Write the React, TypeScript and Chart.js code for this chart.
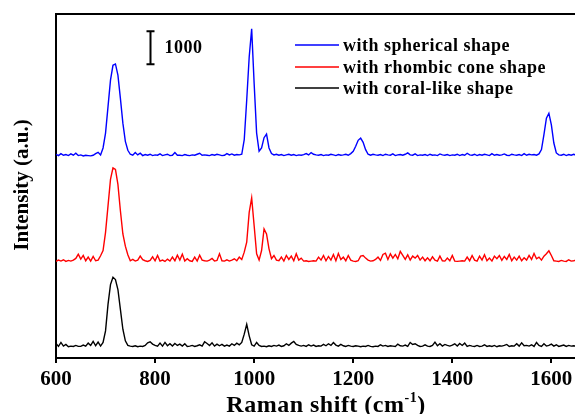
import { useEffect, useRef } from "react";
import { Chart, registerables } from "chart.js";

Chart.register(...registerables);

// Raman spectra sampled every 5 cm-1 from 600 to 1650 cm-1 (intensity above each trace's own baseline)
const SHIFT_START = 600;
const SHIFT_STEP = 5;

const SPHERICAL = [
  60, 20, 80, 30, 50, 20, 70, 30, 90, 20,
  40, 10, 30, 20, 10, 30, 80, 120, 40, 250,
  700, 1500, 2300, 2750, 2790, 2450, 1750, 1000, 450, 180,
  60, 30, 110, 40, 90, 20, 50, 30, 60, 20,
  40, 30, 70, 20, 40, 60, 20, 30, 110, 30,
  30, 20, 50, 30, 20, 40, 30, 60, 90, 30,
  40, 30, 20, 50, 30, 60, 40, 20, 30, 80,
  40, 70, 30, 50, 40, 60, 500, 1700, 3000, 3850,
  2200, 700, 150, 250, 560, 670, 250, 80, 40, 60,
  30, 50, 20, 40, 60, 30, 50, 20, 40, 30,
  50, 80, 40, 110, 60, 40, 30, 50, 20, 40,
  30, 60, 40, 20, 50, 30, 40, 60, 30, 80,
  150, 300, 480, 550, 420, 200, 60, 30, 60, 40,
  30, 50, 20, 60, 40, 30, 70, 20, 40, 50,
  30, 60, 100, 40, 30, 70, 20, 40, 30, 50,
  20, 60, 30, 40, 20, 70, 40, 30, 50, 20,
  40, 30, 60, 20, 50, 30, 90, 40, 30, 60,
  20, 50, 30, 60, 40, 20, 80, 30, 50, 30,
  40, 70, 30, 20, 60, 40, 30, 50, 20, 80,
  30, 60, 40, 50, 30, 70, 200, 650, 1150, 1300,
  950, 400, 100, 40, 30, 60, 20, 50, 30, 60,
  30,
];

const RHOMBIC_CONE = [
  20, 60, 30, 70, 20, 50, 30, 60, 110, 240,
  90, 200, 40, 150, 30, 170, 40, 60, 190, 350,
  900, 1700, 2500, 2850, 2800, 2350, 1550, 850, 480, 220,
  40, 80, 30, 60, 180, 70, 40, 20, 50, 160,
  40, 200, 30, 60, 20, 90, 30, 150, 40, 210,
  60, 240, 30, 100, 40, 20, 150, 30, 210, 60,
  40, 30, 60, 110, 30, 50, 250, 40, 30, 70,
  30, 60, 100, 40, 150, 80, 300, 600, 1500, 1940,
  1100, 250, 60, 350, 1000, 850, 400, 100, 200, 60,
  40, 150, 30, 200, 80, 180, 40, 250, 60, 120,
  30, 40, 20, 30, 40, 30, 150, 60, 200, 40,
  170, 60, 230, 40, 260, 80, 150, 40, 200, 60,
  30, 20, 40, 180, 200, 120, 60, 30, 40, 80,
  150, 50, 230, 270, 80, 250, 120, 230, 100, 320,
  200, 80, 220, 60, 180, 120, 200, 60, 150, 40,
  130, 40, 160, 60, 30, 180, 40, 30, 120, 40,
  200, 30, 20, 30, 40, 30, 150, 40, 200, 60,
  30, 180, 60, 220, 40, 120, 30, 180, 100, 200,
  50, 170, 80, 230, 40, 150, 60, 180, 40, 130,
  60, 200, 80, 260, 100, 150, 60, 180, 250, 340,
  200, 40, 30, 20, 50, 30, 20, 70, 30, 40,
  60,
];

const CORAL_LIKE = [
  120, 30, 150, 40, 90, 20, 40, 30, 60, 30,
  30, 70, 40, 130, 60, 180, 50, 160, 40, 150,
  500, 1300, 1900, 2120, 2050, 1750, 1150, 550, 200, 60,
  40, 30, 50, 20, 40, 30, 60, 140, 170, 100,
  60, 40, 130, 40, 150, 50, 110, 40, 120, 60,
  100, 40, 110, 30, 40, 60, 30, 50, 80, 40,
  170, 120, 60, 140, 40, 100, 50, 90, 40, 70,
  40, 110, 60, 130, 80, 150, 400, 700, 350, 80,
  40, 150, 60, 30, 40, 20, 50, 30, 60, 40,
  70, 30, 50, 110, 60, 130, 180, 90, 60, 40,
  60, 30, 80, 40, 70, 30, 50, 40, 90, 50,
  110, 60, 150, 70, 40, 90, 50, 30, 60, 40,
  30, 50, 40, 20, 40, 30, 60, 30, 20, 40,
  30, 80, 40, 60, 30, 50, 40, 30, 100, 50,
  40, 70, 30, 150, 90, 110, 60, 30, 40, 80,
  40, 30, 60, 160, 50, 110, 40, 90, 60, 40,
  70, 110, 40, 120, 60, 130, 30, 60, 40, 30,
  60, 30, 40, 80, 30, 50, 30, 60, 20, 50,
  40, 60, 90, 30, 50, 40, 110, 40, 140, 50,
  60, 40, 80, 30, 150, 60, 30, 110, 40, 60,
  100, 40, 80, 30, 50, 70, 30, 60, 40, 50,
  40,
];

const SERIES = [SPHERICAL, RHOMBIC_CONE, CORAL_LIKE];
const SERIES_NAMES = ["with spherical shape", "with rhombic cone shape", "with coral-like shape"];
const SERIES_COLORS = ["#0000ff", "#ff0000", "#000000"];
// vertical stacking of the three spectra, in intensity units
const STACK_OFFSETS = [6100, 2900, 320];

const X_TICKS = [600, 800, 1000, 1200, 1400, 1600];
const X_MIN = 600;
const X_MAX = 1680;
const Y_MIN = 0;
const Y_MAX = 10400;

// intensity scale bar: 1000 a.u., drawn at 790 cm-1
const SCALE_BAR_SIZE = 1000;
const SCALE_BAR_SHIFT = 790;
const SCALE_BAR_BASE = 8880;

const FONT_FAMILY = '"Liberation Serif", "Times New Roman", serif';

const decorations = {
  id: "decorations",
  afterDraw(chart: any) {
    const { ctx, chartArea: a, scales } = chart;
    const xs = scales.x;
    const ys = scales.y;
    ctx.save();

    // upper frame line
    ctx.strokeStyle = "#000";
    ctx.lineWidth = 2;
    ctx.beginPath();
    ctx.moveTo(a.left - 1, a.top);
    ctx.lineTo(a.right + 2, a.top);
    ctx.stroke();

    // scale bar
    const bx = Math.round(xs.getPixelForValue(SCALE_BAR_SHIFT)) + 0.5;
    const yb = ys.getPixelForValue(SCALE_BAR_BASE);
    const yt = ys.getPixelForValue(SCALE_BAR_BASE + SCALE_BAR_SIZE);
    ctx.lineWidth = 2;
    ctx.beginPath();
    ctx.moveTo(bx, yb);
    ctx.lineTo(bx, yt);
    ctx.moveTo(bx - 4, yb);
    ctx.lineTo(bx + 4, yb);
    ctx.moveTo(bx - 4, yt);
    ctx.lineTo(bx + 4, yt);
    ctx.stroke();
    ctx.fillStyle = "#000";
    ctx.letterSpacing = "0.5px";
    ctx.font = `bold 18px ${FONT_FAMILY}`;
    ctx.textAlign = "left";
    ctx.textBaseline = "middle";
    ctx.fillText(String(SCALE_BAR_SIZE), bx + 14, (yb + yt) / 2 + 1);

    // legend
    ctx.font = `bold 18px ${FONT_FAMILY}`;
    const rowY = [45, 67, 88];
    SERIES_NAMES.forEach((name, i) => {
      ctx.strokeStyle = SERIES_COLORS[i];
      ctx.lineWidth = 1.5;
      ctx.beginPath();
      ctx.moveTo(295, rowY[i]);
      ctx.lineTo(339, rowY[i]);
      ctx.stroke();
      ctx.fillStyle = "#000";
      ctx.fillText(name, 343, rowY[i] + 1);
    });

    // axis titles
    ctx.letterSpacing = "0px";
    ctx.textAlign = "center";
    ctx.textBaseline = "middle";
    ctx.font = `bold 21px ${FONT_FAMILY}`;
    ctx.save();
    ctx.translate(23, 185);
    ctx.rotate(-Math.PI / 2);
    ctx.fillText("Intensity (a.u.)", 0, 0);
    ctx.restore();

    ctx.letterSpacing = "0.5px";
    const main = "Raman shift (cm";
    const sup = "-1";
    const close = ")";
    const mainFont = `bold 24px ${FONT_FAMILY}`;
    const supFont = `bold 14px ${FONT_FAMILY}`;
    ctx.font = mainFont;
    const w1 = ctx.measureText(main).width;
    const w3 = ctx.measureText(close).width;
    ctx.font = supFont;
    const w2 = ctx.measureText(sup).width;
    const total = w1 + w2 + w3;
    let cx = 326 - total / 2;
    const base = 412;
    ctx.textAlign = "left";
    ctx.textBaseline = "alphabetic";
    ctx.font = mainFont;
    ctx.fillText(main, cx, base);
    cx += w1;
    ctx.font = supFont;
    ctx.fillText(sup, cx, base - 10);
    cx += w2;
    ctx.font = mainFont;
    ctx.fillText(close, cx, base);
    ctx.letterSpacing = "0px";

    ctx.restore();
  },
};

export default function App() {
  const canvasRef = useRef<HTMLCanvasElement | null>(null);

  useEffect(() => {
    const canvas = canvasRef.current;
    if (!canvas) return;
    const datasets = SERIES.map((values, i) => ({
      label: SERIES_NAMES[i],
      data: values.map((v, k) => ({ x: SHIFT_START + k * SHIFT_STEP, y: v + STACK_OFFSETS[i] })),
      borderColor: SERIES_COLORS[i],
      backgroundColor: SERIES_COLORS[i],
      borderWidth: 1.4,
      pointRadius: 0,
      tension: 0,
      fill: false,
    }));

    const chart = new Chart(canvas, {
      type: "line",
      data: { datasets },
      options: {
        animation: false,
        responsive: false,
        devicePixelRatio: 1,
        parsing: false,
        normalized: true,
        layout: { padding: { top: 14, right: 0, left: 0, bottom: 0 } },
        plugins: {
          legend: { display: false },
          tooltip: { enabled: false },
        },
        scales: {
          x: {
            type: "linear",
            min: X_MIN,
            max: X_MAX,
            afterBuildTicks: (s: any) => {
              s.ticks = X_TICKS.map((v) => ({ value: v }));
            },
            afterFit: (s: any) => {
              s.height = 56;
            },
            grid: {
              display: true,
              drawOnChartArea: false,
              drawTicks: true,
              tickLength: 5,
              color: "#000",
              lineWidth: 2,
            },
            border: { display: true, color: "#000", width: 2 },
            ticks: {
              color: "#000",
              padding: 4,
              maxRotation: 0,
              autoSkip: false,
              callback: (v: any) => String(v),
              font: { family: FONT_FAMILY, size: 21, weight: "bold" },
            },
          },
          y: {
            type: "linear",
            min: Y_MIN,
            max: Y_MAX,
            afterFit: (s: any) => {
              s.width = 56;
            },
            grid: { display: false },
            border: { display: true, color: "#000", width: 2 },
            ticks: { display: false },
          },
        },
      },
      plugins: [decorations],
    });

    return () => chart.destroy();
  }, []);

  return (
    <div
      style={{
        position: "fixed",
        left: 0,
        top: 0,
        width: 575,
        height: 414,
        overflow: "hidden",
        background: "#fff",
      }}
    >
      <canvas ref={canvasRef} width={591} height={414} style={{ display: "block" }} />
    </div>
  );
}
